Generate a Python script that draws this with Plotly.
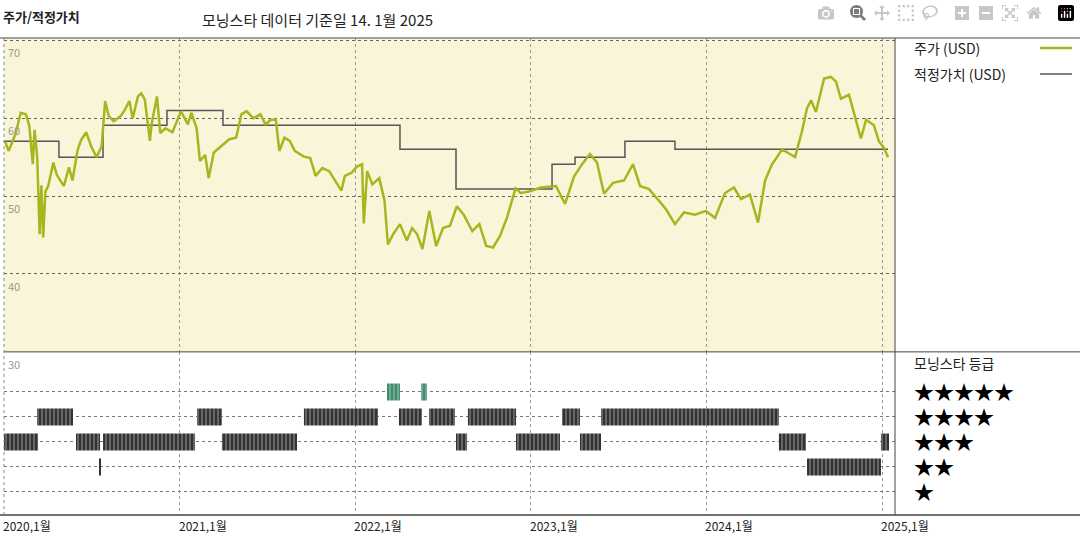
import plotly.graph_objects as go

# ── Price (decimal year, USD) ─────────────────────────────────────────
price_t = [
    2020.007, 2020.026, 2020.066, 2020.095, 2020.125, 2020.144, 2020.164, 2020.174, 2020.189,
    2020.203, 2020.213, 2020.223, 2020.236, 2020.252, 2020.281, 2020.301, 2020.341, 2020.370,
    2020.390, 2020.419, 2020.439, 2020.468, 2020.498, 2020.527, 2020.556, 2020.576, 2020.596,
    2020.625, 2020.665, 2020.684, 2020.714, 2020.733, 2020.763, 2020.782, 2020.802, 2020.831,
    2020.841, 2020.871, 2020.890, 2020.920, 2020.959, 2020.989, 2021.008, 2021.047, 2021.067,
    2021.097, 2021.116, 2021.146, 2021.165, 2021.195, 2021.234, 2021.283, 2021.322, 2021.352,
    2021.381, 2021.420, 2021.460, 2021.489, 2021.519, 2021.548, 2021.568, 2021.597, 2021.627,
    2021.656, 2021.705, 2021.744, 2021.774, 2021.813, 2021.852, 2021.892, 2021.921, 2021.941,
    2021.980, 2022.010, 2022.039, 2022.049, 2022.068, 2022.098, 2022.137, 2022.167, 2022.186,
    2022.216, 2022.255, 2022.294, 2022.324, 2022.353, 2022.383, 2022.422, 2022.461, 2022.500,
    2022.540, 2022.579, 2022.618, 2022.667, 2022.707, 2022.746, 2022.785, 2022.825, 2022.864,
    2022.913, 2022.942, 2022.991, 2023.040, 2023.058, 2023.143, 2023.195, 2023.246, 2023.292,
    2023.337, 2023.377, 2023.417, 2023.468, 2023.531, 2023.582, 2023.622, 2023.673, 2023.730,
    2023.770, 2023.821, 2023.872, 2023.935, 2023.998, 2024.049, 2024.106, 2024.157, 2024.197,
    2024.248, 2024.294, 2024.334, 2024.374, 2024.402, 2024.431, 2024.476, 2024.505, 2024.544,
    2024.573, 2024.596, 2024.624, 2024.670, 2024.709, 2024.738, 2024.766, 2024.812, 2024.840,
    2024.880, 2024.909, 2024.954, 2024.983, 2025.011, 2025.034,
]
price_usd = [
    57.0, 55.8, 58.0, 60.7, 60.5, 59.0, 54.1, 58.5, 55.0,
    45.1, 51.4, 44.7, 50.6, 51.3, 54.3, 52.7, 51.3, 53.7,
    52.0, 55.9, 57.2, 58.2, 56.3, 55.0, 56.4, 62.2, 60.3,
    59.6, 60.3, 60.9, 62.2, 60.0, 62.8, 63.2, 62.4, 57.1,
    59.3, 62.8, 58.1, 58.7, 58.2, 60.0, 60.9, 59.2, 60.7,
    58.7, 54.5, 55.3, 52.3, 55.6, 56.4, 57.3, 57.5, 60.5,
    60.9, 60.0, 60.5, 59.2, 59.8, 59.8, 55.8, 57.5, 57.1,
    55.8, 55.1, 54.9, 52.6, 53.6, 53.2, 51.7, 50.7, 52.6,
    53.0, 53.8, 54.1, 46.5, 53.2, 51.5, 52.3, 49.4, 43.8,
    45.1, 46.4, 44.3, 45.9, 45.1, 43.2, 48.1, 43.6, 45.9,
    46.2, 48.7, 47.6, 45.5, 46.4, 43.6, 43.4, 44.9, 47.2,
    51.0, 50.4, 50.6, 51.0, 51.1, 51.3, 49.0, 52.5, 54.1,
    55.4, 54.3, 50.3, 51.7, 52.0, 54.1, 51.3, 50.9, 49.4,
    48.3, 46.4, 47.9, 47.6, 48.1, 47.2, 50.4, 51.1, 49.6,
    50.2, 46.6, 52.0, 54.1, 55.0, 56.0, 55.4, 55.0, 58.3,
    61.3, 62.3, 60.8, 65.1, 65.3, 64.7, 62.5, 63.0, 60.8,
    57.4, 59.8, 59.1, 57.0, 56.2, 55.0,
]

# ── Fair value steps ──────────────────────────────────────────────────
fair_t = [2020.0, 2020.313, 2020.564, 2020.928, 2021.247, 2022.255, 2022.574,
          2023.121, 2023.252, 2023.536, 2023.821, 2025.034]
fair_usd = [57.05, 55.0, 59.1, 61.0, 59.1, 56.0, 50.9, 54.1, 55.0, 57.05, 56.0, 56.0]

# ── Star rating periods (start, end, stars) ───────────────────────────
rating_start = [2020.0, 2020.410, 2020.564, 2021.241, 2022.574, 2022.916, 2023.280, 2024.413, 2024.994,
                2020.188, 2021.099, 2021.708, 2022.249, 2022.420, 2022.642, 2023.178, 2023.400,
                2022.181, 2022.375,
                2024.573, 2020.545]
rating_end = [2020.194, 2020.547, 2021.088, 2021.669, 2022.637, 2023.166, 2023.400, 2024.567, 2025.040,
              2020.393, 2021.241, 2022.130, 2022.380, 2022.568, 2022.916, 2023.280, 2024.413,
              2022.255, 2022.409,
              2024.994, 2020.551]
rating_stars = [3, 3, 3, 3, 3, 3, 3, 3, 3,
                4, 4, 4, 4, 4, 4, 4, 4,
                5, 5,
                2, 2]

years = [2020, 2021, 2022, 2023, 2024, 2025]
year_labels = ["2020,1월", "2021,1월", "2022,1월", "2023,1월", "2024,1월", "2025,1월"]
price_ticks = [70, 60, 50, 40, 30]

FONT = "Noto Sans CJK KR"
OLIVE = "#a9b51f"
GREY = "#555555"
PX_W = 891  # plot width in px

fig = go.Figure()

fig.add_trace(go.Scatter(x=fair_t, y=fair_usd, mode="lines", line=dict(color=GREY, width=1.5, shape="hv"),
                         showlegend=False, hoverinfo="skip"))
fig.add_trace(go.Scatter(x=price_t, y=price_usd, mode="lines", line=dict(color=OLIVE, width=2.5),
                         showlegend=False))

bar_colors = ["#3e8c6c" if s == 5 else "#333333" for s in rating_stars]
fig.add_trace(go.Bar(
    y=rating_stars, x=[e - s for s, e in zip(rating_start, rating_end)], base=rating_start,
    orientation="h", width=0.68, yaxis="y2",
    marker=dict(color=bar_colors, line=dict(width=0),
                pattern=dict(shape="|", fgcolor="#8a8a8a", size=4, solidity=0.25)),
    showlegend=False,
))

fig.update_layout(
    width=1080, height=540,
    margin=dict(l=4, r=185, t=38, b=25),
    paper_bgcolor="white", plot_bgcolor="white",
    font=dict(family=FONT, size=13, color="#222"),
    xaxis=dict(range=[2020.0, 2025.074], tickvals=years, showticklabels=False,
               showgrid=True, gridcolor="#999", griddash="dot", gridwidth=1, zeroline=False),
    yaxis=dict(domain=[0.342, 1], range=[30, 70.3], tickvals=[40, 50, 60, 70], showticklabels=False,
               showgrid=True, gridcolor="#666", griddash="dot", zeroline=False),
    yaxis2=dict(domain=[0, 0.342], range=[0.08, 6.6], tickvals=[1, 2, 3, 4, 5], showticklabels=False,
                showgrid=True, gridcolor="#777", griddash="dot", zeroline=False),
    shapes=[
        dict(type="rect", xref="x domain", yref="y domain", x0=0, x1=1, y0=0, y1=1,
             fillcolor="#f9f5d8", line_width=0, layer="below"),
        dict(type="line", xref="paper", yref="y domain", x0=0, x1=1076 / PX_W, y0=0, y1=0,
             line=dict(color="#444", width=1)),
        dict(type="line", xref="paper", yref="paper", x0=-4 / PX_W, x1=1076 / PX_W, y0=1, y1=1,
             line=dict(color="#444", width=1)),
        dict(type="line", xref="paper", yref="paper", x0=-4 / PX_W, x1=1076 / PX_W, y0=0, y1=0,
             line=dict(color="#444", width=1.5)),
        dict(type="line", xref="paper", yref="paper", x0=1, x1=1, y0=0, y1=1,
             line=dict(color="#444", width=1)),
        dict(type="line", xref="paper", yref="paper", x0=0, x1=0, y0=0, y1=1,
             line=dict(color="#888", width=1, dash="dot")),
        # legend swatches
        dict(type="line", xref="paper", yref="paper", x0=1036 / PX_W, x1=1068 / PX_W,
             y0=1 - 10 / 477, y1=1 - 10 / 477, line=dict(color=OLIVE, width=2.5)),
        dict(type="line", xref="paper", yref="paper", x0=1036 / PX_W, x1=1068 / PX_W,
             y0=1 - 36 / 477, y1=1 - 36 / 477, line=dict(color=GREY, width=1.5)),
    ],
)

ann = [
    dict(text="<b>주가/적정가치</b>", x=-3 / PX_W, y=1 + 22 / 477, xanchor="left", yanchor="middle",
         font=dict(size=13)),
    dict(text="모닝스타 데이터 기준일 14. 1월 2025", x=196 / PX_W, y=1 + 19 / 477, xanchor="left",
         yanchor="middle", font=dict(size=15)),
    dict(text="주가 (USD)", x=908 / PX_W, y=1 - 10 / 477, xanchor="left", yanchor="middle", font=dict(size=14)),
    dict(text="적정가치 (USD)", x=908 / PX_W, y=1 - 36 / 477, xanchor="left", yanchor="middle", font=dict(size=14)),
    dict(text="모닝스타 등급", x=908 / PX_W, y=0.342 - 11 / 477, xanchor="left", yanchor="middle",
         font=dict(size=14)),
]
for v in price_ticks:
    ann.append(dict(text=str(v), x=2 / PX_W, y=v, yref="y", xanchor="left", yanchor="top",
                    yshift=-2, font=dict(size=11, color="#999")))
for s in [5, 4, 3, 2, 1]:
    ann.append(dict(text="★" * s, x=908 / PX_W, y=s, yref="y2", xanchor="left", yanchor="middle",
                    font=dict(size=20, color="black")))
for yv, lab in zip(years, year_labels):
    ann.append(dict(text=lab, x=yv, xref="x", y=0, yanchor="top", xanchor="left", xshift=-3, yshift=0,
                    font=dict(size=12, color="#222")))
for a in ann:
    a.setdefault("xref", "paper")
    a.setdefault("yref", "paper")
    a["showarrow"] = False
fig.update_layout(annotations=ann)

# drop the default page margin so the 1080x540 figure fills the window exactly
fig.write_html("out.html", post_script="document.body.style.margin='0';")
